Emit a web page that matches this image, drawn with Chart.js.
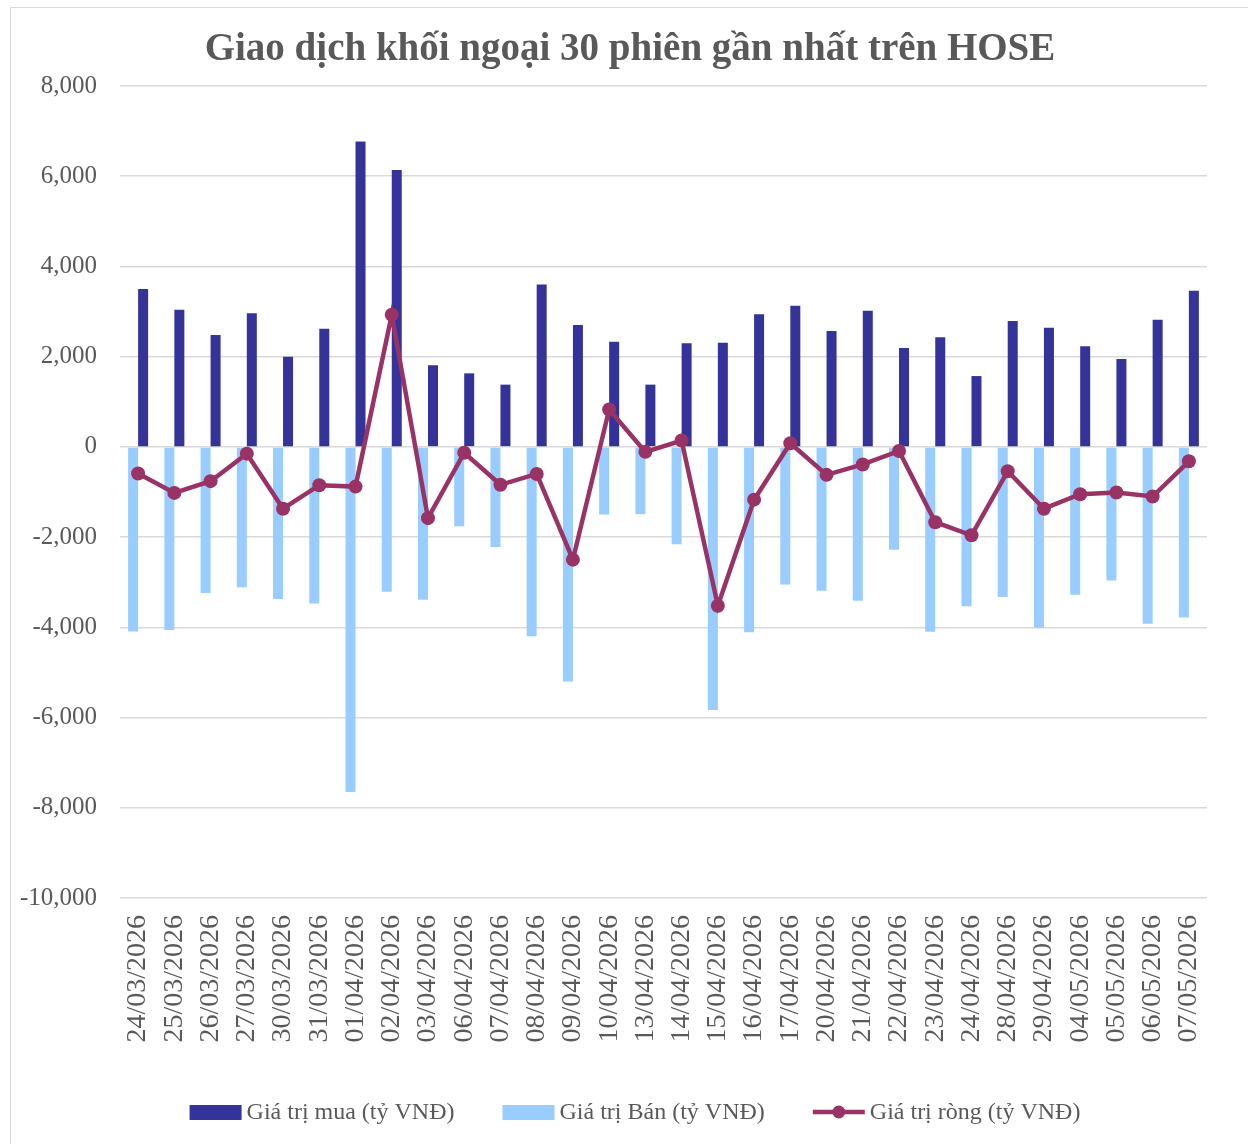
<!DOCTYPE html>
<html><head><meta charset="utf-8">
<script src="https://cdn.jsdelivr.net/npm/chart.js@4/dist/chart.umd.min.js"></script>
<style>
html,body{margin:0;padding:0;background:#fff;}
#wrap{position:relative;width:1248px;height:1144px;overflow:hidden;}
#frame{position:absolute;left:10px;top:7px;width:1260px;height:1160px;border:1px solid #d9d9d9;box-sizing:border-box;}
canvas{position:absolute;left:0;top:0;}
</style></head><body>
<div id="wrap"><div id="frame"></div><canvas id="c" width="1248" height="1144"></canvas></div>
<script>
const TITLE = 'Giao dịch khối ngoại 30 phiên gần nhất trên HOSE';
const dates = ['24/03/2026','25/03/2026','26/03/2026','27/03/2026','30/03/2026','31/03/2026','01/04/2026','02/04/2026','03/04/2026','06/04/2026','07/04/2026','08/04/2026','09/04/2026','10/04/2026','13/04/2026','14/04/2026','15/04/2026','16/04/2026','17/04/2026','20/04/2026','21/04/2026','22/04/2026','23/04/2026','24/04/2026','28/04/2026','29/04/2026','04/05/2026','05/05/2026','06/05/2026','07/05/2026'];
const buyLabel = 'Giá trị mua (tỷ VNĐ)';
const sellLabel = 'Giá trị Bán (tỷ VNĐ)';
const netLabel = 'Giá trị ròng (tỷ VNĐ)';
const buyValues = [3500,3040,2480,2960,2000,2620,6770,6140,1810,1630,1380,3600,2700,2330,1380,2300,2310,2940,3130,2570,3020,2190,2430,1570,2790,2640,2230,1950,2820,3460];
const sellValues = [-4090,-4060,-3240,-3110,-3370,-3470,-7650,-3210,-3390,-1760,-2220,-4200,-5200,-1500,-1490,-2160,-5830,-4110,-3050,-3190,-3410,-2280,-4100,-3530,-3330,-4010,-3280,-2960,-3920,-3780];
const netValues = [-590,-1020,-760,-150,-1370,-850,-880,2930,-1580,-130,-840,-600,-2500,830,-110,140,-3520,-1170,80,-620,-390,-90,-1670,-1960,-540,-1370,-1050,-1010,-1100,-320];
const yMin = -10000, yMax = 8000, yStep = 2000;

const BUY_COLOR = '#333399', SELL_COLOR = '#99CCFF', NET_COLOR = '#993366';
const TEXT_COLOR = '#595959';
const SERIF = '"Liberation Serif", serif';

const customPlugin = {
  id: 'custom',
  afterDraw(chart) {
    const ctx = chart.ctx;
    ctx.save();
    // title
    ctx.fillStyle = TEXT_COLOR;
    ctx.font = 'bold 39px ' + SERIF;
    ctx.textAlign = 'center';
    ctx.textBaseline = 'middle';
    ctx.fillText(TITLE, 630, 50);
    // legend
    const items = [
      {label: buyLabel, kind: 'box', color: BUY_COLOR},
      {label: sellLabel, kind: 'box', color: SELL_COLOR},
      {label: netLabel, kind: 'line', color: NET_COLOR}
    ];
    ctx.font = '24px ' + SERIF;
    const markW = 52, gapText = 5, gapItem = 48;
    let total = 0;
    items.forEach((it, i) => { it.w = markW + gapText + ctx.measureText(it.label).width; total += it.w + (i ? gapItem : 0); });
    let x = 635 - total / 2;
    const y = 1112;
    ctx.textAlign = 'left';
    items.forEach(it => {
      if (it.kind === 'box') {
        ctx.fillStyle = it.color;
        ctx.fillRect(x, y - 7, markW, 15);
      } else {
        ctx.strokeStyle = it.color; ctx.lineWidth = 4.5;
        ctx.beginPath(); ctx.moveTo(x, y); ctx.lineTo(x + markW, y); ctx.stroke();
        ctx.fillStyle = it.color;
        ctx.beginPath(); ctx.arc(x + markW / 2, y, 6.5, 0, Math.PI * 2); ctx.fill();
      }
      ctx.fillStyle = TEXT_COLOR;
      ctx.fillText(it.label, x + markW + gapText, y + 1);
      x += it.w + gapItem;
    });
    ctx.restore();
  }
};

new Chart(document.getElementById('c'), {
  data: {
    labels: dates,
    datasets: [
      {type: 'line', label: netLabel, data: netValues, borderColor: NET_COLOR, backgroundColor: NET_COLOR,
       borderWidth: 4.5, pointRadius: 7, pointBackgroundColor: NET_COLOR, pointBorderWidth: 0, tension: 0, order: 0},
      {type: 'bar', label: sellLabel, data: sellValues, backgroundColor: SELL_COLOR,
       categoryPercentage: 0.552, barPercentage: 1, order: 1},
      {type: 'bar', label: buyLabel, data: buyValues, backgroundColor: BUY_COLOR,
       categoryPercentage: 0.552, barPercentage: 1, order: 1}
    ]
  },
  options: {
    responsive: false,
    animation: false,
    devicePixelRatio: 1,
    layout: {padding: {left: 10, right: 41, top: 86, bottom: 0}},
    plugins: {legend: {display: false}, title: {display: false}, tooltip: {enabled: false}},
    scales: {
      x: {
        grid: {display: false, drawTicks: false},
        border: {display: false},
        ticks: {color: TEXT_COLOR, font: {family: SERIF, size: 28}, maxRotation: 90, minRotation: 90, padding: 17, autoSkip: false},
        afterFit(scale) { scale.height = 246; }
      },
      y: {
        min: yMin, max: yMax,
        grid: {color: '#d9d9d9', lineWidth: 1.5, drawTicks: false},
        border: {display: false},
        ticks: {stepSize: yStep, color: TEXT_COLOR, font: {family: SERIF, size: 25}, padding: 23,
          callback: v => v.toLocaleString('en-US')},
        afterFit(scale) { scale.width = 110; }
      }
    }
  },
  plugins: [customPlugin]
});
</script>
</body></html>
